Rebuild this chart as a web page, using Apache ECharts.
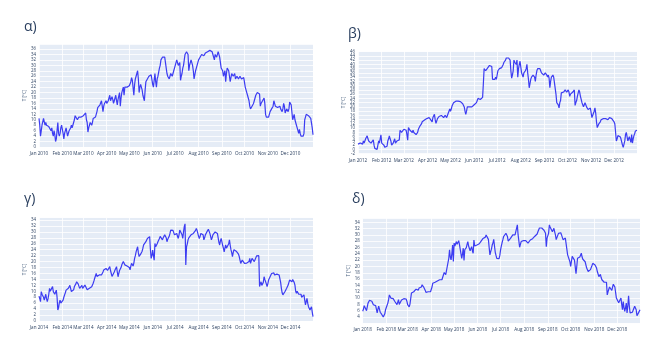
<!DOCTYPE html>
<html>
<head>
<meta charset="utf-8">
<script src="https://cdn.jsdelivr.net/npm/echarts@6/dist/echarts.min.js"></script>
<style>
  html, body { margin: 0; padding: 0; background: #ffffff; }
  #chart { width: 663px; height: 339px; }
</style>
</head>
<body>
<div id="chart"></div>
<script>
// Daily mean temperature (°C), one value per day of the year.
const t2010 = [
  /* Jan */ 10.5, 8, 4, 6, 8, 8.5, 10.5, 10, 8, 9, 8, 7.5, 8, 7.5, 7.5, 7, 6, 7, 5, 4, 6, 4.5, 2, 3, 6, 9, 5, 4, 5, 7, 8,
  /* Feb */ 8.5, 5, 3, 5, 6, 7, 5.5, 4, 5, 6, 6, 7, 8, 7, 8, 9, 10, 11.5, 11, 11, 10, 10.5, 11, 10.5, 10.5, 11, 11, 11.5,
  /* Mar */ 11.5, 12, 12, 12.5, 10, 9, 5.5, 7, 8, 9, 8.5, 8, 9, 10.5, 10.5, 10, 11, 11, 13, 14.5, 14.5, 15, 15.5, 15, 17, 15, 13, 15, 16, 16.5, 17,
  /* Apr */ 16, 16.5, 17, 18, 19, 17, 17.5, 18.5, 17.5, 16, 17, 18, 19, 17, 15.5, 17.5, 18, 20, 15, 18, 20, 21, 22, 19, 22, 21.5, 21.5, 22, 21.5, 22,
  /* May */ 22.5, 23, 24, 25.5, 24.5, 24, 19, 23, 25, 26, 27, 28, 25, 20, 22, 23, 22, 21, 19, 18, 17, 21, 24, 24.5, 25, 25.5, 26, 26.5, 26, 26.5, 27,
  /* Jun */ 23, 22, 21.5, 27, 24, 22, 25, 26, 27.5, 29, 30, 32, 32.5, 33, 33.5, 33.5, 33, 31, 29, 27, 26, 25.5, 25, 26, 27, 26.5, 26, 27, 28, 29,
  /* Jul */ 30, 31, 32, 31, 30, 30.5, 31, 24.5, 26, 27, 29, 30, 32, 34, 34.5, 35, 34.5, 34, 28, 30, 31, 32, 31, 30, 28, 25, 26.5, 28, 29, 29.5, 31,
  /* Aug */ 32, 32.5, 33, 33.5, 34, 34, 34, 33.5, 34, 34.5, 34.5, 35, 35, 35, 35.5, 35.5, 35, 35, 35, 34.5, 34.5, 32, 34, 34, 33, 34, 35, 34, 33, 31, 29,
  /* Sep */ 29, 28, 26, 27, 28, 24, 27, 29, 28.5, 28, 26, 24, 25.5, 27, 26.5, 26, 26.5, 27, 25, 25.5, 26, 26, 25, 25.5, 26, 25.5, 25, 25, 25.5, 25.5,
  /* Oct */ 25, 22, 21, 20, 19, 18, 17, 15, 14, 13.5, 15, 15.5, 16, 17, 18, 19, 19.5, 20, 20, 19.5, 19.5, 15, 16, 16.5, 17, 17.5, 18, 16, 12, 11, 11,
  /* Nov */ 11, 11, 11.5, 13, 13.5, 14, 14, 15, 17, 16, 15, 15.5, 14.5, 14.5, 15, 15, 15, 14, 14.5, 13, 14, 16, 15, 12.5, 13, 14, 13.5, 13, 14, 16.5,
  /* Dec */ 16, 15.5, 15, 10, 11, 12, 10, 9, 8, 7, 6, 5, 6.5, 5, 4, 4, 3.5, 4, 5, 10, 11, 12, 12, 12, 11.5, 11.5, 11, 10.5, 10, 7, 4.5
];

const t2012 = [
  /* Jan */ 2.5, 3, 2, 3, 3.5, 2.5, 2.5, 4, 3, 4, 5, 5.5, 6.4, 5, 4, 3.5, 3.5, 3, 3, 3.5, 4.5, 2, 0.5, 0.5, 0, 0, 0, 4, 3, 5, 6.9,
  /* Feb */ 3, 3.5, 3, 2, 1, 0.5, 0.5, 1.5, 4, 5, 6.4, 5, 4, 2, 2.5, 3, 4, 5, 3, 3.5, 4, 4, 4.5, 4.5, 9, 8.5, 8, 8, 8.5,
  /* Mar */ 9.5, 10.3, 10, 9, 7, 4.4, 10.3, 9.5, 9, 8.5, 8.5, 8, 9, 8, 7.5, 7.2, 7, 7.5, 8, 9.5, 10, 11, 11.5, 12, 13, 13, 13.5, 13.8, 14, 14, 14.5,
  /* Apr */ 14.5, 14, 15, 14.5, 14, 13.5, 13, 15, 15.5, 16.5, 14, 12.3, 13, 14.5, 15, 15.5, 15, 15, 16, 16.5, 15.5, 15, 15.5, 16, 15.5, 15, 16, 17, 18, 19,
  /* May */ 18, 19, 20.4, 21, 22, 22.5, 22.5, 22.7, 22.5, 22.7, 22.7, 22.5, 22.7, 22.5, 22.5, 22.5, 21.5, 21, 20, 18, 16.5, 18, 20, 19.5, 20, 20, 19.5, 20, 20, 20.5, 20.5,
  /* Jun */ 21, 21.5, 21.5, 22, 23, 24, 24.5, 24, 23.5, 23.5, 23.5, 24.5, 31, 38, 37.5, 37, 37.5, 38, 38, 38.5, 39.5, 39, 40, 39, 33, 33.5, 32.8, 33, 34, 33,
  /* Jul */ 35, 37, 37.5, 38, 38, 38.5, 38.5, 39, 40, 41, 41.5, 42, 43, 43.3, 43, 43, 42.5, 42, 37, 33.5, 35, 37, 42, 41, 40.5, 40, 42, 34, 38, 40, 41.5,
  /* Aug */ 41, 36, 35, 34, 36, 36.5, 37, 38, 40, 36, 33, 29, 31, 33, 34, 34.5, 35, 35, 34, 32, 35, 37, 38, 38, 37.5, 38, 37, 36, 36, 35.5, 35,
  /* Sep */ 35.5, 36, 36.7, 35, 34, 35, 33.5, 29, 32, 34, 34.5, 35, 34, 34, 34, 26, 22, 21.5, 21, 19.5, 22, 23, 26.6, 26, 27, 27, 27.5, 28, 27.5, 27,
  /* Oct */ 27.5, 28, 27, 25, 26, 26.5, 26.5, 27, 27.5, 28, 20.7, 22, 23, 25, 26.5, 28, 27, 25, 23.5, 22, 21, 20, 21, 22, 21, 20, 19.5, 18.8, 19, 19, 19.5,
  /* Nov */ 20, 15, 16, 17, 18, 19.6, 17, 13, 10.3, 11, 12, 12.5, 13, 14, 14, 14.5, 14.5, 14.5, 14.5, 14.5, 14.5, 14, 14, 14.5, 15, 14.5, 14.5, 14.5, 14.5, 15,
  /* Dec */ 13, 12, 11.8, 4, 5, 6.5, 7, 7, 6, 5, 3.5, 2, 1, 0.5, 4, 7, 8, 6, 4, 5, 6, 4.5, 3.3, 7, 3, 5, 6.5, 7.5, 8.7, 8.5, 9
];

const t2014 = [
  /* Jan */ 8.4, 7.5, 6.5, 9.9, 9, 9.5, 8, 7, 8, 9, 7.5, 6.5, 7.5, 9, 11, 10, 9.5, 10.5, 11.6, 9.9, 10, 9, 9.5, 10.4, 8, 3.7, 4.5, 6.2, 7, 6, 5.4,
  /* Feb */ 6, 7, 8, 8.8, 9.5, 10.4, 10.5, 10.2, 11, 11.5, 12, 11, 9.9, 10, 9.5, 10.5, 11.6, 12, 12.5, 13.2, 13, 12.5, 12, 11, 10.7, 11.5, 12, 11,
  /* Mar */ 10.4, 11, 12.1, 11.5, 11.5, 10.5, 9.9, 10.5, 11, 11, 11.5, 11.5, 12, 12.7, 13.5, 14.4, 15, 16, 15, 14.4, 15, 15.5, 15.5, 15, 15.5, 15.5, 16.5, 17.2, 17, 17.5, 17.7,
  /* Apr */ 17.5, 17, 16.5, 17.5, 18.3, 17, 16, 15, 14.4, 15.5, 16.5, 17.2, 17.5, 18.3, 16.5, 14.9, 16, 17, 17.2, 18, 18.9, 19.5, 20, 19.5, 18.9, 18.5, 18.3, 18.5, 18.9, 18.5,
  /* May */ 18, 17.2, 18.5, 19.4, 19, 18.5, 19.5, 21.1, 22, 23.3, 23, 25, 23, 21.7, 22, 22.5, 23, 23.5, 24.5, 25.6, 25, 26, 26.7, 27, 27.8, 27.5, 28, 28.4, 24, 21.1, 22,
  /* Jun */ 23.9, 22, 20.5, 26.1, 25, 24.5, 26, 26.7, 27, 27.8, 28.5, 29, 28, 27.3, 28, 28, 29, 29.5, 28, 26.7, 27.5, 28, 28.5, 29.5, 30.6, 31.2, 31, 30.5, 30, 29,
  /* Jul */ 28.4, 29, 29.5, 28.5, 27.8, 29, 30.6, 31, 31.2, 29, 27.8, 30, 31.8, 32.7, 18.9, 25, 26, 27.3, 28, 28.4, 28.5, 29, 29, 29.5, 29.5, 30, 30, 30.5, 31.2, 30.5, 30.6,
  /* Aug */ 28.5, 27.8, 28.5, 29.5, 30, 30, 29, 27.3, 28, 29, 29, 30, 30.5, 30.9, 30.5, 29.5, 28.5, 27.3, 28, 29, 29.5, 29.5, 30, 30, 29.5, 29.5, 28, 26.5, 25.6, 27, 27.8,
  /* Sep */ 27.5, 25.5, 24.5, 23.3, 24.5, 25.6, 24.5, 24, 25, 26, 27.3, 25.5, 24, 23, 21.7, 23, 24, 24, 23.5, 23.5, 24, 23.9, 22.5, 21.7, 20.5, 19.4, 20, 20.5, 20.5, 20,
  /* Oct */ 19.4, 19, 18.9, 19.5, 19, 19.4, 20, 21.1, 19.4, 20, 21.1, 21, 20.5, 20, 19.4, 20.5, 21.9, 21.5, 22.2, 22, 11.6, 12.5, 13.2, 12, 11.6, 13, 14.9, 14, 13.8, 12.5, 11.6,
  /* Nov */ 12.5, 13.8, 14, 14.9, 15.5, 16, 16, 16.6, 16.2, 15.5, 15.5, 16, 15.8, 15.5, 15.5, 15.5, 14.9, 13, 11, 9.5, 8.8, 9, 9.3, 10, 10.5, 11, 11.5, 12.1, 13, 13.8,
  /* Dec */ 13.8, 13.5, 13.2, 14, 14.4, 13, 12.1, 10, 9.3, 10, 9.9, 9, 8.8, 9.3, 9, 8, 7.6, 8.5, 8.8, 7, 5.4, 6.5, 7.6, 6, 4.8, 4.5, 3.7, 4.2, 4.8, 3, 1.5
];

const t2018 = [
  /* Jan */ 5.8, 6.5, 7.6, 7.2, 7, 6, 5.8, 8.4, 9, 9.3, 9.5, 9.3, 9, 8.5, 7.9, 7.5, 7.5, 7.6, 6.5, 5.3, 6.5, 7.4, 6.5, 5.5, 5, 4.8, 4.4, 4, 4.5, 5, 6.3,
  /* Feb */ 7, 7.5, 8.4, 9.5, 11, 11.4, 10, 10.5, 10, 9.8, 9.3, 9, 8.9, 8.5, 7.9, 8.5, 9.5, 8, 7.4, 8.5, 9.4, 9.8, 10, 9.8, 9.5, 9.5, 9.7, 9,
  /* Mar */ 7.9, 7.5, 7.2, 8, 8.4, 11.6, 11.7, 11.8, 12, 12.1, 12.3, 12.8, 12.7, 12.6, 12.5, 13.2, 13, 12.8, 13.5, 14.2, 13.8, 13.5, 13.2, 12.5, 11.8, 12, 12.3, 12, 12.5, 11.8, 12,
  /* Apr */ 12.5, 13.5, 14.7, 14.8, 14.9, 15, 15.3, 15.2, 15.4, 15.5, 15.6, 15.8, 15.6, 15.5, 15.8, 16.6, 17, 18.1, 17.5, 17.4, 17.8, 20, 20.5, 22.6, 25.3, 23, 22.1, 24, 26.8, 21.6,
  /* May */ 27.4, 26.5, 27, 27.9, 27, 26.8, 28.2, 27, 25.5, 24, 22.6, 24, 25.8, 21.9, 25.3, 25.5, 26, 27, 27.9, 26.5, 26, 25, 24.7, 26.3, 25, 24.2, 28.4, 26.5, 26.5, 26, 26.8,
  /* Jun */ 26.8, 27, 27.2, 27.5, 27.9, 28, 28.3, 28.9, 28.6, 28.5, 29.3, 30, 30.2, 30.5, 28.6, 26, 23.7, 24.7, 25.5, 26.8, 27.5, 28.6, 26.5, 24.5, 23.5, 22.6, 22.1, 22.1, 22.5, 23.5,
  /* Jul */ 25.3, 26.5, 27.6, 28.5, 29.5, 30, 30, 30.5, 30, 29.5, 28, 27.4, 28, 28.9, 29.5, 29.5, 30, 29.5, 29.5, 30, 30, 30.5, 33.2, 30, 29.5, 26.1, 27, 27.9, 28, 28.2, 28.2,
  /* Aug */ 28, 28.4, 28.2, 28, 27.6, 27.4, 27.8, 28, 28.4, 28.6, 28.7, 28.8, 29, 29.2, 29.6, 30, 30.2, 30.3, 31, 31.6, 32.2, 32.6, 32.4, 32.2, 31.8, 31.6, 31.5, 31.4, 30.5, 26.3, 29,
  /* Sep */ 29, 30.5, 33.2, 32.5, 32, 32.8, 31, 31.5, 32.1, 31, 30, 28.5, 27.9, 29, 30.5, 30, 30.2, 30.7, 30, 29.5, 28.5, 27.9, 28.5, 29, 28.8, 28.5, 23.7, 23.5, 23.2, 21.5,
  /* Oct */ 20, 19.5, 23.2, 23, 22.6, 22, 21.6, 17.7, 20, 22.6, 22.5, 22.3, 23, 23.5, 24.2, 23, 22.3, 22.4, 22.5, 21.5, 21, 19.5, 18.9, 18.4, 18.4, 18.7, 19, 19.5, 20.3, 21, 21.3,
  /* Nov */ 21.3, 20.5, 20, 19.5, 18.4, 18, 16.8, 17, 17.5, 16.5, 15.8, 15.3, 15.3, 15, 15.2, 15.3, 15, 11, 12, 12.6, 13.5, 14, 13, 12.4, 13.5, 14.4, 14.2, 13.5, 13, 10,
  /* Dec */ 9.8, 9.5, 8.5, 7.9, 9, 10, 8, 6.3, 8.9, 7, 5.8, 7, 8.4, 5.3, 7.5, 10.7, 7.4, 5.3, 5.5, 5.8, 5.5, 5, 6, 7.4, 6.8, 6.3, 4.4, 5, 5.3, 5.8, 6.3
];

const monthNames = ['Jan', 'Feb', 'Mar', 'Apr', 'May', 'Jun', 'Jul', 'Aug', 'Sep', 'Oct', 'Nov', 'Dec'];
const panelTitles = ['α)', 'β)', 'γ)', 'δ)'];
const panelYears = [2010, 2012, 2014, 2018];
const panelValues = [t2010, t2012, t2014, t2018];
const yAxisName = 'T [°C]';

// Layout of the four panels (pixels) and their value ranges.
const layout = [
  { grid: { left: 39, top: 44, width: 274, height: 103 }, yMin: 0, yMax: 37.84, title: [19, 15] },
  { grid: { left: 358, top: 51, width: 279, height: 102.7 }, yMin: -2, yMax: 46.3, title: [343, 22] },
  { grid: { left: 39, top: 217.7, width: 274, height: 103.3 }, yMin: 0, yMax: 34.78, title: [19, 187] },
  { grid: { left: 362.7, top: 218.3, width: 277.3, height: 105 }, yMin: 2, yMax: 35.27, title: [347, 187], hideMin: true }
];

// One 'YYYY-MM-DD' category per day, starting on 1 January.
function dayCategories(year, count) {
  const out = [];
  for (let i = 0; i < count; i++) {
    const d = new Date(Date.UTC(year, 0, 1 + i));
    out.push(d.toISOString().slice(0, 10));
  }
  return out;
}

const isMonthStart = (idx, val) => val.slice(8, 10) === '01';
const textColor = '#2a3f5f';
const fontFamily = '"Open Sans", "Noto Sans", sans-serif';

const option = {
  backgroundColor: '#ffffff',
  animation: false,
  title: [],
  grid: [],
  xAxis: [],
  yAxis: [],
  series: []
};

panelValues.forEach((vals, i) => {
  const L = layout[i];
  const cats = dayCategories(panelYears[i], vals.length);
  option.title.push({
    text: panelTitles[i],
    left: L.title[0], top: L.title[1],
    textStyle: { fontSize: 14, fontWeight: 'normal', color: textColor, fontFamily }
  });
  option.grid.push(Object.assign({
    show: true, backgroundColor: '#e5ecf6', borderWidth: 0, containLabel: false
  }, L.grid));
  option.xAxis.push({
    type: 'category', gridIndex: i, data: cats, boundaryGap: false,
    axisLine: { show: false }, axisTick: { show: false },
    axisLabel: {
      interval: isMonthStart, margin: 4, fontSize: 4.6, color: textColor, fontFamily,
      hideOverlap: false,
      formatter: v => monthNames[parseInt(v.slice(5, 7), 10) - 1] + ' ' + v.slice(0, 4)
    },
    splitLine: { show: true, interval: isMonthStart, lineStyle: { color: '#ffffff', width: 0.8 } }
  });
  option.yAxis.push({
    type: 'value', gridIndex: i, min: L.yMin, max: L.yMax, interval: 2,
    name: yAxisName, nameLocation: 'middle', nameGap: 12, nameRotate: 90,
    nameTextStyle: { fontSize: 4.6, color: '#506784', fontFamily },
    axisLine: { show: false }, axisTick: { show: false },
    axisLabel: {
      fontSize: 4.4, color: textColor, margin: 3, fontFamily,
      showMaxLabel: false, showMinLabel: !L.hideMin
    },
    splitLine: { show: true, lineStyle: { color: '#ffffff', width: 0.8 } }
  });
  option.series.push({
    type: 'line', xAxisIndex: i, yAxisIndex: i, data: vals,
    showSymbol: false, symbol: 'none',
    lineStyle: { color: '#3c3cf2', width: 1.2 },
    emphasis: { disabled: true }
  });
});

const chart = echarts.init(document.getElementById('chart'), null, { renderer: 'canvas' });
chart.setOption(option);
</script>
</body>
</html>
